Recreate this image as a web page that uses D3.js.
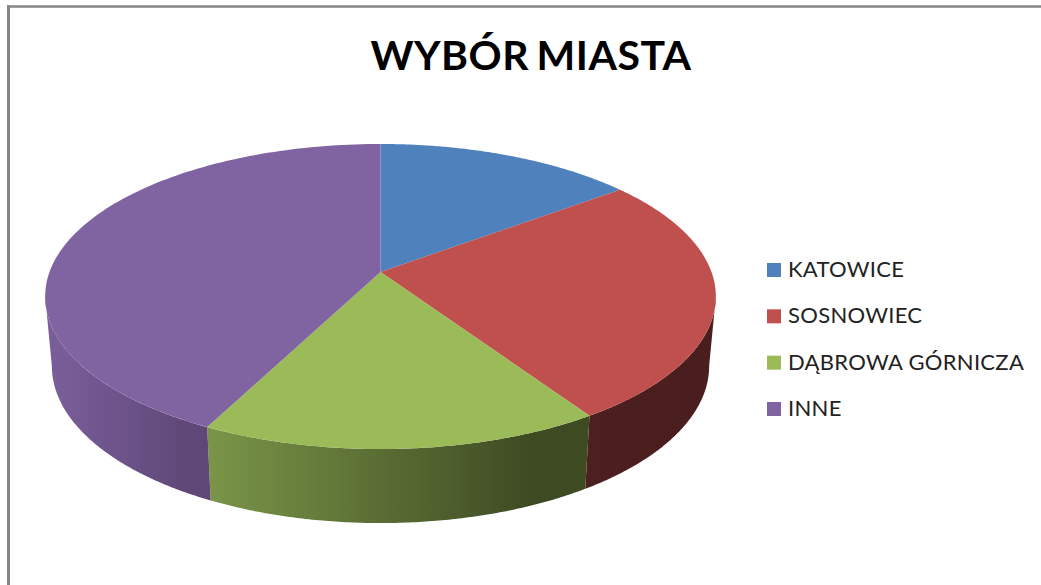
<!DOCTYPE html>
<html>
<head>
<meta charset="utf-8">
<script src="https://cdn.jsdelivr.net/npm/d3@7"></script>
<style>
  html, body { margin: 0; padding: 0; background: #fff; overflow: hidden; }
  text { font-family: Lato, "Open Sans", sans-serif; }
</style>
</head>
<body>
<div id="chart"></div>
<script>
const title = 'WYBÓR MIASTA';
const categories = ['KATOWICE', 'SOSNOWIEC', 'DĄBROWA GÓRNICZA', 'INNE'];
const shares = [14.6, 26.2, 16.6, 42.6];
const topColors = ['#4f81bd', '#c0504d', '#9bbb59', '#8064a2'];
// side wall shading, left to right
const sideColors = [
  ['#4f81bd', '#2a4563'],
  ['#4d1f1f', '#4a1e1e'],
  ['#7a9548', '#3e4a22'],
  ['#7b5f9c', '#5f4878'],
];

const width = 1041;
const height = 585;

const svg = d3.select('#chart').append('svg')
  .attr('width', width)
  .attr('height', height);

// frame, only top and left are in the picture
svg.append('path')
  .attr('d', d3.line()([[7, 6.5], [width, 6.5]]))
  .attr('stroke', '#868686')
  .attr('stroke-width', 2.5);
svg.append('path')
  .attr('d', d3.line()([[8.5, 5.3], [8.5, height]]))
  .attr('stroke', '#868686')
  .attr('stroke-width', 3);

svg.append('text')
  .attr('x', 531)
  .attr('y', 69.5)
  .attr('text-anchor', 'middle')
  .attr('font-size', 41)
  .attr('font-weight', 700)
  .attr('letter-spacing', 0.5)
  .attr('word-spacing', -3)
  .attr('fill', '#000')
  .text(title);

// the tilted disc: a circle seen in perspective, so the centre sits above the ellipse's middle
const persp = 0.1607;
const radiusX = d3.scaleLinear().domain([-1, 1]).range([380.5 - 331, 380.5 + 331]);
const radiusY = d3.scaleLinear().domain([-1, 1]).range([272 + 148.6, 272 - 148.6]);

const project = (angle, drop = 0, shrinkX = 1, shrinkY = 1) => {
  const u = Math.sin(angle);
  const v = Math.cos(angle);
  const w = 1 + persp * v;
  return [
    radiusX(0) + (radiusX(u / w) - radiusX(0)) * shrinkX,
    radiusY(0) + (radiusY(v / w) - radiusY(0)) * shrinkY + drop,
  ];
};

const arcPoints = (a0, a1, drop, shrinkX, shrinkY) =>
  d3.range(0, 121).map(i => project(a0 + (a1 - a0) * i / 120, drop, shrinkX, shrinkY));

const pie = d3.pie().sort(null).value(d => d);
const slices = pie(shares);
const line = d3.line();

// lower rim of the disc
const sideDrop = 68.7;
const sideShrinkX = 0.98;
const sideShrinkY = 1.03;
// the part of the rim facing the viewer
const rimStart = Math.PI / 2 + Math.asin(persp);
const rimEnd = 3 * Math.PI / 2 - Math.asin(persp);

const defs = svg.append('defs');
const sides = svg.append('g');
const tops = svg.append('g');

slices.forEach((s, i) => {
  const a0 = Math.max(s.startAngle, rimStart);
  const a1 = Math.min(s.endAngle, rimEnd);
  if (a0 < a1) {
    const pts = arcPoints(a0, a1, 0, 1, 1)
      .concat(arcPoints(a1, a0, sideDrop, sideShrinkX, sideShrinkY));
    const xs = d3.extent(pts, p => p[0]);
    const grad = defs.append('linearGradient')
      .attr('id', `side-${i}`)
      .attr('gradientUnits', 'userSpaceOnUse')
      .attr('x1', xs[0]).attr('x2', xs[0] + (xs[1] - xs[0]) * 0.85)
      .attr('y1', 0).attr('y2', 0);
    grad.append('stop').attr('offset', 0).attr('stop-color', sideColors[i][0]);
    grad.append('stop').attr('offset', 1).attr('stop-color', sideColors[i][1]);
    sides.append('path')
      .attr('d', line(pts) + 'Z')
      .attr('fill', `url(#side-${i})`);
  }
  const pts = [[radiusX(0), radiusY(0)]].concat(arcPoints(s.startAngle, s.endAngle, 0, 1, 1));
  tops.append('path')
    .attr('d', line(pts) + 'Z')
    .attr('fill', topColors[i]);
});

// legend
const legendY = d3.scalePoint().domain(categories).range([270, 409]);
const legend = svg.append('g').selectAll('g')
  .data(categories).enter().append('g')
  .attr('transform', d => `translate(767, ${legendY(d)})`);
legend.append('rect')
  .attr('y', -7)
  .attr('width', 14)
  .attr('height', 14)
  .attr('fill', (d, i) => topColors[i]);
legend.append('text')
  .attr('x', 21)
  .attr('y', 7)
  .attr('font-size', 22)
  .attr('letter-spacing', 0.3)
  .attr('fill', '#222')
  .text(d => d);
</script>
</body>
</html>
